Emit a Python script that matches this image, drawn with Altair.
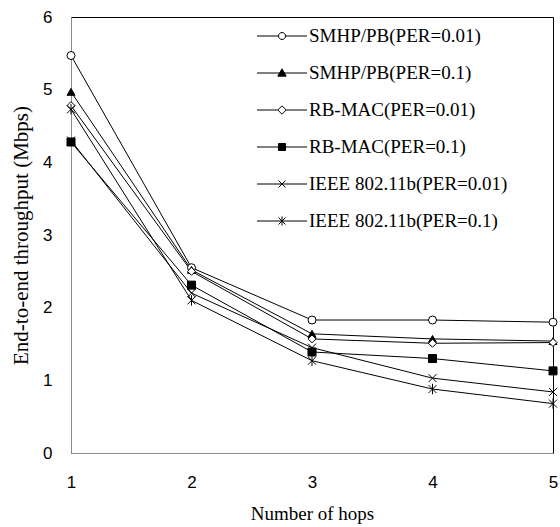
import altair as alt
import pandas as pd

# Throughput vs. number of hops for three MAC schemes at two packet error rates
hops = [1, 2, 3, 4, 5]
series_names = [
    "SMHP/PB(PER=0.01)",
    "SMHP/PB(PER=0.1)",
    "RB-MAC(PER=0.01)",
    "RB-MAC(PER=0.1)",
    "IEEE 802.11b(PER=0.01)",
    "IEEE 802.11b(PER=0.1)",
]
smhp_001 = [5.47, 2.55, 1.83, 1.83, 1.80]
smhp_01 = [4.97, 2.52, 1.64, 1.57, 1.54]
rbmac_001 = [4.78, 2.50, 1.57, 1.51, 1.52]
rbmac_01 = [4.28, 2.31, 1.39, 1.30, 1.13]
ieee_001 = [4.30, 2.20, 1.45, 1.03, 0.84]
ieee_01 = [4.73, 2.10, 1.27, 0.88, 0.68]
y_ticks = [0, 1, 2, 3, 4, 5, 6]

all_series = [smhp_001, smhp_01, rbmac_001, rbmac_01, ieee_001, ieee_01]
rows = []
for name, vals in zip(series_names, all_series):
    for h, v in zip(hops, vals):
        rows.append({"hops": h, "throughput": v, "series": name})
df = pd.DataFrame(rows)

# marker glyphs on the curves
x_path = "M-1,-1L1,1M-1,1L1,-1"
star_path = "M-1,-1L1,1M-1,1L1,-1M0,-1.3L0,1.3"
marker_shapes = ["circle", "triangle-up", "diamond", "square", x_path, star_path]
marker_fills = ["white", "black", "white", "black", "white", "white"]
marker_strokes = ["black"] * 6

# legend glyphs: a short line with the marker in the middle
L = 1.43
legend_shapes = [
    f"M-{L},0H-0.2M0.2,0H{L}M0.2,0A0.2,0.2,0,1,1,-0.2,0A0.2,0.2,0,1,1,0.2,0Z",
    f"M-{L},0H{L}M0,-0.24L0.24,0.18L-0.24,0.18Z",
    f"M-{L},0H-0.24M0.24,0H{L}M0,-0.24L0.24,0L0,0.24L-0.24,0Z",
    f"M-{L},0H{L}M-0.2,-0.2H0.2V0.2H-0.2Z",
    f"M-{L},0H{L}M-0.2,-0.2L0.2,0.2M-0.2,0.2L0.2,-0.2",
    f"M-{L},0H{L}M-0.2,-0.2L0.2,0.2M-0.2,0.2L0.2,-0.2M0,-0.26L0,0.26",
]

serif = "Liberation Serif"
sans = "Liberation Sans"

x_enc = alt.X(
    "hops:Q",
    scale=alt.Scale(domain=[1, 5], nice=False),
    axis=alt.Axis(
        values=hops, format="d", title="Number of hops", grid=False, ticks=False,
        tickSize=0, labelPadding=21, labelFont=sans, labelFontSize=17,
        labelColor="black", titleFont=serif, titleFontSize=19, titleFontWeight="normal",
        titleColor="black", titleY=66, titleBaseline="alphabetic",
        domainColor="#8c8c8c", labelFlush=False,
    ),
)
y_enc = alt.Y(
    "throughput:Q",
    scale=alt.Scale(domain=[0, 6], nice=False),
    axis=alt.Axis(
        values=y_ticks, format="d", title="End-to-end throughput (Mbps)", grid=False,
        ticks=False, tickSize=0, labelPadding=19, labelFont=sans, labelFontSize=17,
        labelColor="black", titleFont=serif, titleFontSize=21, titleFontWeight="normal",
        titleColor="black", titleX=-44, titleBaseline="alphabetic", titleAngle=-90,
        domainColor="#8c8c8c",
    ),
)

lines = alt.Chart(df).mark_line(color="black", strokeWidth=1).encode(
    x=x_enc, y=y_enc, detail="series:N"
)

points = alt.Chart(df).mark_point(stroke="black", strokeWidth=1, opacity=1, size=64).encode(
    x=x_enc,
    y=y_enc,
    shape=alt.Shape("series:N", scale=alt.Scale(domain=series_names, range=marker_shapes), legend=None),
    fill=alt.Fill("series:N", scale=alt.Scale(domain=series_names, range=marker_fills), legend=None),
)


def key_legend():
    return alt.Legend(
        title=None, orient="none", legendX=193, legendY=1, symbolSize=1225,
        symbolStrokeWidth=1, rowPadding=9, labelOffset=9, labelFont=serif,
        labelFontSize=19, labelColor="black", labelLimit=0, padding=0, symbolOffset=0,
    )


legend_layer = (
    alt.Chart(df)
    .transform_filter("false")
    .mark_point(strokeWidth=1, opacity=1)
    .encode(
        x=x_enc,
        y=y_enc,
        shape=alt.Shape("series:N", scale=alt.Scale(domain=series_names, range=legend_shapes),
                        legend=key_legend()),
        fill=alt.Fill("series:N", scale=alt.Scale(domain=series_names, range=marker_fills),
                      legend=key_legend()),
        stroke=alt.Stroke("series:N", scale=alt.Scale(domain=series_names, range=marker_strokes),
                          legend=key_legend()),
    )
)

chart = (
    alt.layer(lines, points, legend_layer)
    .resolve_scale(shape="independent", fill="independent", stroke="independent")
    .properties(
        width=482,
        height=436,
        padding={"left": 71, "top": 17, "right": 7, "bottom": 74},
        autosize="none",
        background="white",
    )
    .configure_view(stroke="black", strokeWidth=1)
)

chart.save("out.html", embed_options={"renderer": "svg", "actions": False})
